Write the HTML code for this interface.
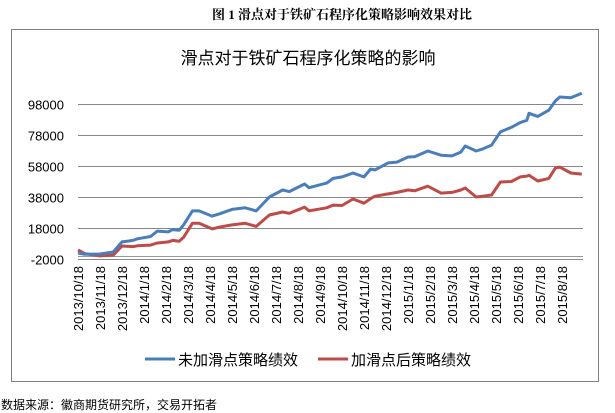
<!DOCTYPE html>
<html><head><meta charset="utf-8"><style>
html,body{margin:0;padding:0;background:#fff;}
body{width:615px;height:413px;overflow:hidden;position:relative;font-family:"Liberation Sans","Noto Sans CJK SC",sans-serif;}
</style></head><body>
<svg id="chart" width="615" height="413" xmlns="http://www.w3.org/2000/svg" style="position:absolute;left:0;top:0">
<text x="342" y="19" text-anchor="middle" font-size="13" font-weight="bold" font-family="'Liberation Serif','Noto Serif CJK SC',serif">图 1  滑点对于铁矿石程序化策略影响效果对比</text>
<rect x="11.5" y="29.5" width="587" height="352" fill="#fff" stroke="#808080" stroke-width="1"/>
<text x="308" y="64" text-anchor="middle" font-size="17" font-family="'Liberation Sans','Noto Sans CJK SC',sans-serif">滑点对于铁矿石程序化策略的影响</text>
<g id="grid"></g><g id="yt"></g><g id="xt"></g><g id="series"></g>
<g>
<line x1="145" y1="359" x2="175" y2="359" stroke="#4a7ebb" stroke-width="3"/>
<text x="178" y="365" font-size="15">未加滑点策略绩效</text>
<line x1="318" y1="359" x2="348" y2="359" stroke="#be4b48" stroke-width="3"/>
<text x="351" y="365" font-size="15">加滑点后策略绩效</text>
</g>
<text x="1" y="409" font-size="12">数据来源：徽商期货研究所，交易开拓者</text>
</svg>
<script>
const xLabels=["2013/10/18","2013/11/18","2013/12/18","2014/1/18","2014/2/18","2014/3/18","2014/4/18","2014/5/18","2014/6/18","2014/7/18","2014/8/18","2014/9/18","2014/10/18","2014/11/18","2014/12/18","2015/1/18","2015/2/18","2015/3/18","2015/4/18","2015/5/18","2015/6/18","2015/7/18","2015/8/18"];
const yTicks=[-2000,18000,38000,58000,78000,98000];
// time in months since 2013/10/18
const tBlue=[0,0.3,1,1.6,2,2.5,2.7,3.3,3.6,4.1,4.3,4.6,4.8,5.2,5.5,6.1,6.4,7,7.6,8.1,8.7,9.3,9.6,10.3,10.5,11.3,11.6,12,12.5,13,13.3,13.5,14.1,14.5,15,15.3,15.9,16.5,17,17.4,17.6,18.1,18.4,18.8,19.2,19.7,20.1,20.4,20.5,20.9,21.4,21.7,21.9,22.4,22.9];
const vBlue=[1900,1000,1200,2500,9000,10000,11000,12500,16000,15500,17000,16500,20000,29000,29000,25700,27000,30000,31000,29000,38000,42500,41500,46400,44000,47000,50000,51000,53500,51000,56000,55500,60000,60500,63800,64000,67700,65000,64500,67000,70900,67700,69000,71500,80000,83000,86000,87500,92000,90000,94000,100000,102500,102000,105000];
const tRed=[0,0.3,1,1.6,2,2.5,2.7,3.3,3.6,4.1,4.3,4.6,4.8,5.2,5.5,6.1,6.4,7,7.6,8.1,8.7,9.3,9.6,10.3,10.5,11.3,11.6,12,12.5,13,13.3,13.5,14.1,14.5,15,15.3,15.9,16.5,17,17.4,17.6,18.1,18.4,18.8,19.2,19.7,20.1,20.4,20.5,20.9,21.4,21.7,21.9,22.4,22.9];
const vRed=[3800,1500,0,500,6400,6000,6500,7000,8300,9000,10000,9500,12000,21000,21000,17400,18500,20000,21000,19000,26400,28300,27500,31500,29000,31000,32800,32500,36700,34000,37000,38500,40000,41000,42500,42000,45000,40500,41000,42500,43800,38000,38500,39300,47700,48000,51000,51500,52000,48300,50000,56700,57300,53500,52800];

const X0=78,PX=22,Y0=259,YS=31/20000,YMIN=-2000;
const xs=t=>X0+t*PX, ys=v=>Y0-(v-YMIN)*YS;
const NS="http://www.w3.org/2000/svg";
function mk(tag,attrs,parent){const e=document.createElementNS(NS,tag);for(const k in attrs)e.setAttribute(k,attrs[k]);parent.appendChild(e);return e;}
const grid=document.getElementById('grid'),yt=document.getElementById('yt'),xt=document.getElementById('xt'),ser=document.getElementById('series');
yTicks.forEach((v,i)=>{
  const y=Math.round(ys(v))+0.5;
  const l=mk('line',{x1:78,x2:583,y1:y,y2:y,stroke:i===0?'#888':'#878787','stroke-width':1},grid);
  
  
  const t=mk('text',{x:64,y:y+5,'text-anchor':'end','font-size':13},yt);
  t.textContent=v;
  
  
});
const ax=mk('line',{x1:78,x2:583,y1:Y0-2.5,y2:Y0-2.5,stroke:'#999','stroke-width':1},grid);


xLabels.forEach((s,i)=>{
  const x=xs(i)+5;
  const t=mk('text',{x:0,y:0,'text-anchor':'end','font-size':13,transform:`translate(${x},266) rotate(-90)`},xt);
  t.textContent=s;
  
  
});
function line(ts,vs,color,name){
  const d=ts.map((t,i)=>(i?'L':'M')+xs(t).toFixed(1)+','+ys(vs[i]).toFixed(1)).join('');
  const p=mk('path',{d:d,fill:'none',stroke:color,'stroke-width':3,'stroke-linejoin':'round'},ser);
  
  
}
line(tRed,vRed,'#be4b48','series-with-slippage');
line(tBlue,vBlue,'#4a7ebb','series-no-slippage');
</script>
</body></html>
